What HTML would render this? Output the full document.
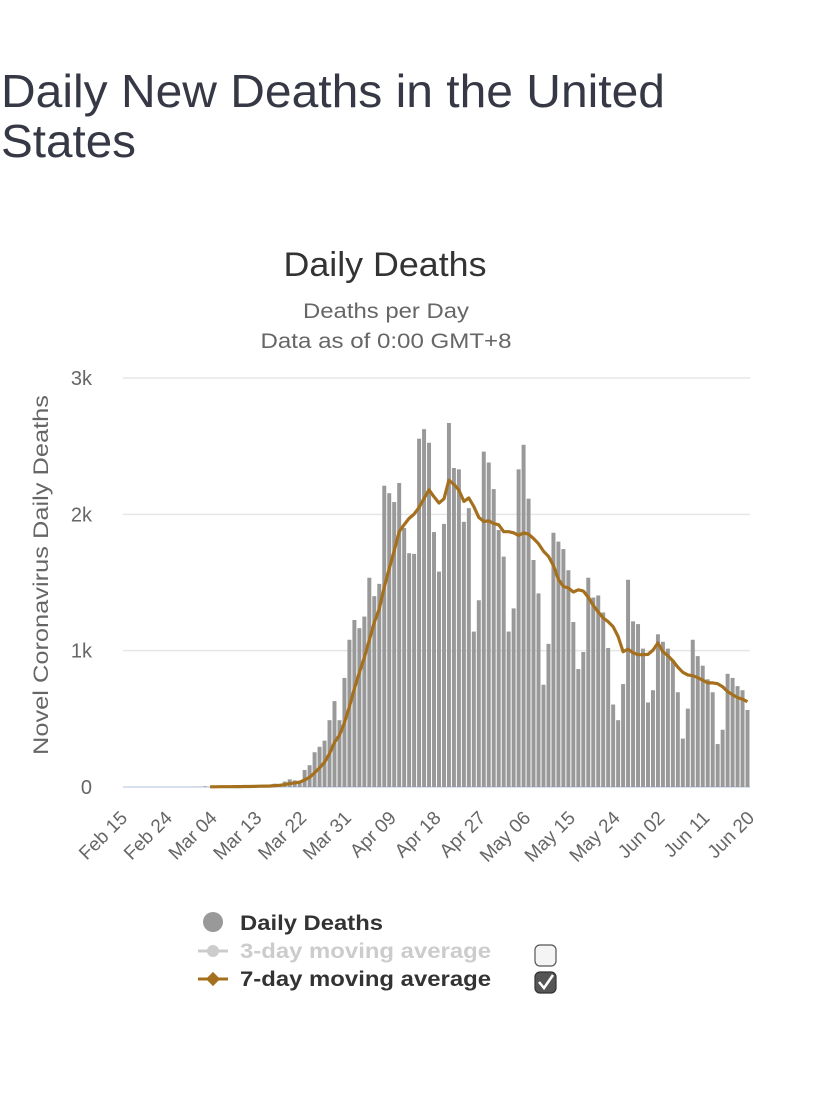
<!DOCTYPE html>
<html><head><meta charset="utf-8">
<style>
body{margin:0;background:#fff;width:828px;height:1112px;overflow:hidden;font-family:"Liberation Sans",Arial,sans-serif;}
svg{position:absolute;left:0;top:0;}
</style></head><body>
<svg id="chart" width="828" height="1112">
<g font-size="46" fill="#363945">
<text x="1" y="107" textLength="664" lengthAdjust="spacingAndGlyphs">Daily New Deaths in the United</text>
<text x="1" y="157" textLength="135" lengthAdjust="spacingAndGlyphs">States</text>
</g>
<text x="385" y="276" text-anchor="middle" font-size="34" fill="#333" textLength="203" lengthAdjust="spacingAndGlyphs">Daily Deaths</text>
<text x="386" y="318" text-anchor="middle" font-size="21" fill="#666" textLength="166" lengthAdjust="spacingAndGlyphs">Deaths per Day</text>
<text x="386" y="348" text-anchor="middle" font-size="21" fill="#666" textLength="251" lengthAdjust="spacingAndGlyphs">Data as of 0:00 GMT+8</text>
<text transform="translate(48,575) rotate(-90)" text-anchor="middle" font-size="21" fill="#666" textLength="360" lengthAdjust="spacingAndGlyphs">Novel Coronavirus Daily Deaths</text>
<g id="grid"></g><g id="bars"></g><g id="line"></g><g id="xlabels"></g>
<g>
<g><circle cx="213" cy="922" r="10" fill="#999"/><text x="240" y="930" font-size="21" font-weight="bold" fill="#333" textLength="143" lengthAdjust="spacingAndGlyphs">Daily Deaths</text></g>
<g><line x1="198" y1="951" x2="228" y2="951" stroke="#ccc" stroke-width="3"/><circle cx="213" cy="951" r="6" fill="#ccc"/><text x="240" y="958" font-size="21" font-weight="bold" fill="#ccc" textLength="251" lengthAdjust="spacingAndGlyphs">3-day moving average</text></g>
<g><line x1="198" y1="979" x2="228" y2="979" stroke="#a5701e" stroke-width="3"/><rect x="208" y="974" width="10" height="10" fill="#a5701e" transform="rotate(45 213 979)"/><text x="240" y="986" font-size="21" font-weight="bold" fill="#333" textLength="251" lengthAdjust="spacingAndGlyphs">7-day moving average</text></g>
<rect x="535" y="945" width="21" height="21" rx="5" fill="#f4f4f4" stroke="#555" stroke-width="1.2"/>
<rect x="535" y="972" width="21" height="21" rx="5" fill="#555" stroke="#333" stroke-width="1.2"/>
<path d="M539 982 L544 988 L553 975" stroke="#fff" stroke-width="2.5" fill="none"/>
</g>
</svg>
<script>
const xTickLabels = ["Feb 15","Feb 24","Mar 04","Mar 13","Mar 22","Mar 31","Apr 09","Apr 18","Apr 27","May 06","May 15","May 24","Jun 02","Jun 11","Jun 20"];
const yTickValues = [0,1000,2000,3000];
const yTickLabels = ["0","1k","2k","3k"];
const dailyDeaths = [0,0,0,0,0,0,0,0,0,0,0,0,0,0,1,
1,5,1,4,1,2,3,4,4,8,3,7,10,9,11,24,23,40,56,49,46,
125,160,255,295,340,490,630,490,800,1080,1225,1165,1250,1535,1400,1490,
2210,2155,2090,2230,1900,1715,1710,2555,2625,2525,1870,1580,1930,2670,2340,2330,1945,2045,
1140,1370,2460,2380,2185,1885,1690,1140,1310,2330,2510,2115,1665,1420,750,1050,1865,1800,1745,1590,1210,865,990,
1535,1390,1405,1280,1020,605,490,755,1520,1215,1195,1015,620,710,1120,1065,1015,930,695,355,575,1080,960,890,790,695,315,420,830,800,740,710,565];
const avgStart = 17;
const X0=123, X1=750, Y0=787, YMAX=3000, PH=409;
const n = dailyDeaths.length;
const bw = (X1-X0)/n;
const xs = i => X0 + (i+0.5)*bw;
const ys = v => Y0 - v/YMAX*PH;
const NS="http://www.w3.org/2000/svg";
function mk(tag, attrs, parent){const e=document.createElementNS(NS,tag);for(const k in attrs)e.setAttribute(k,attrs[k]);parent.appendChild(e);return e;}
const grid=document.getElementById('grid');
yTickValues.forEach((v,i)=>{
  const l=mk('line',{x1:X0,x2:X1,y1:ys(v),y2:ys(v),stroke:i===0?'#ccd6eb':'#e6e6e6','stroke-width':1.5},grid);
  
  
  const t=mk('text',{x:92,y:ys(v)+7,'text-anchor':'end','font-size':20,fill:'#666'},grid);
  t.textContent=yTickLabels[i];
  
  
});
const bars=document.getElementById('bars');
dailyDeaths.forEach((v,i)=>{
  if(v<=0) return;
  const r=mk('rect',{x:xs(i)-bw*0.4,y:ys(v),width:bw*0.8,height:Y0-ys(v),fill:'#999'},bars);
  
  
});
const avg=[];
for(let i=avgStart;i<n;i++){let s=0,c=0;for(let j=Math.max(0,i-6);j<=i;j++){s+=dailyDeaths[j];c++;}avg.push([i,s/c]);}
let d='';
avg.forEach((p,k)=>{d+=(k?'L':'M')+xs(p[0]).toFixed(1)+' '+ys(p[1]).toFixed(1);});
const path=mk('path',{d:d,fill:'none',stroke:'#a5701e','stroke-width':3.2,'stroke-linejoin':'round'},document.getElementById('line'));


const xl=document.getElementById('xlabels');
xTickLabels.forEach((lab,k)=>{
  const i=k*9;const x=xs(i)+3,y=819;
  const t=mk('text',{x:x,y:y,'text-anchor':'end','font-size':19,fill:'#666',transform:`rotate(-45 ${x} ${y})`},xl);
  t.textContent=lab;
  
  
});
</script>
</body></html>
